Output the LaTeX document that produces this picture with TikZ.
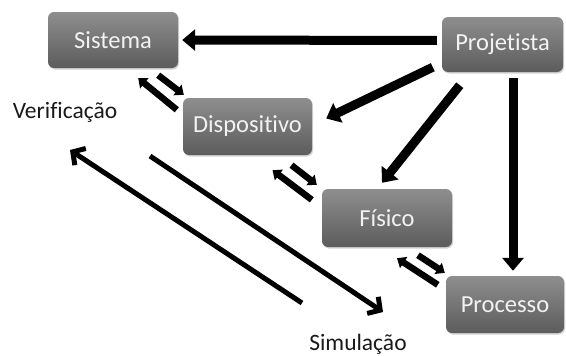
\documentclass[tikz,border=0pt]{standalone}
\usepackage{fontspec}
\setmainfont{Carlito}[Ligatures=NoCommon]
\usetikzlibrary{arrows.meta,shadows,calc}
\definecolor{boxtop}{RGB}{142,142,142}
\definecolor{boxbot}{RGB}{92,92,92}
\definecolor{boxtxt}{RGB}{242,242,242}
\definecolor{lbltxt}{RGB}{25,25,25}
\tikzset{
  stage/.style={rectangle, rounded corners=6pt, top color=boxtop, bottom color=boxbot,
    draw=none, text=boxtxt, font=\fontsize{24.5}{28}\selectfont, inner sep=0pt,
    drop shadow={opacity=0.35, shadow xshift=1pt, shadow yshift=-1.5pt}},
  lbl/.style={text=lbltxt, font=\fontsize{23.5}{27}\selectfont, inner sep=0pt},
  bigarrow/.style={line width=9pt, -{Triangle[length=13pt, width=21pt]}},
  pairarrow/.style={line width=6.5pt, -{Triangle[length=8pt, width=13pt]}},
  longarrow/.style={line width=5pt, -{Straight Barb[length=9pt, width=20pt]}},
}
\begin{document}
\begin{tikzpicture}[x=1pt,y=-1pt]
\useasboundingbox (0,0) rectangle (566,356);
\node[stage, minimum width=130pt, minimum height=56pt] (sis) at (113,40) {Sistema};
\node[stage, minimum width=129pt, minimum height=57pt] (disp) at (247.5,126.5) {Dispositivo};
\node[stage, minimum width=121pt, minimum height=55pt] (proj) at (502.5,44.5) {Projetista};
\node[stage, minimum width=130pt, minimum height=58pt] (fis) at (387,218) {Físico};
\node[stage, minimum width=118pt, minimum height=57pt] (proc) at (505,304.5) {Processo};
\node[lbl] (ver) at (65,112) {Verificação};
\node[lbl] (sim) at (358,344) {Simulação};
% Projetista arrows
\draw[bigarrow] ($(proj.west)+(-5,-4)$) -- ($(sis.east)+(4,0)$);
\draw[bigarrow] ($(proj.south west)+(-9,-5)$) -- ($(disp.east)+(14,-8)$);
\draw[bigarrow] ($(proj.south west)+(18,13)$) -- ($(fis.north)+(-5,-6)$);
\draw[bigarrow] ($(proj.south)+(10.5,6)$) -- ($(proc.north)+(8,-5)$);
% pairs
\draw[pairarrow] ($(sis.south east)+(-20,7)$) -- ($(disp.north west)+(1,-3)$);
\draw[pairarrow] ($(disp.north west)+(-6,12)$) -- ($(sis.south east)+(-40,10)$);
\draw[pairarrow] ($(disp.south)+(44,10)$) -- ($(fis.north west)+(-5,-4)$);
\draw[pairarrow] ($(fis.north west)+(-10,11)$) -- ($(disp.south)+(25,15)$);
\draw[pairarrow] ($(fis.south)+(31,8)$) -- ($(proc.north west)+(-1,-3)$);
\draw[pairarrow] ($(proc.north west)+(-8,9)$) -- ($(fis.south)+(10,11)$);
% long arrows
\coordinate (simstart) at (150,156);
\coordinate (simend) at (383,312);
\coordinate (verstart) at (302,303);
\coordinate (verend) at (70,150);
\draw[longarrow] (simstart) -- (simend);
\draw[longarrow] (verstart) -- (verend);
\end{tikzpicture}
\end{document}
